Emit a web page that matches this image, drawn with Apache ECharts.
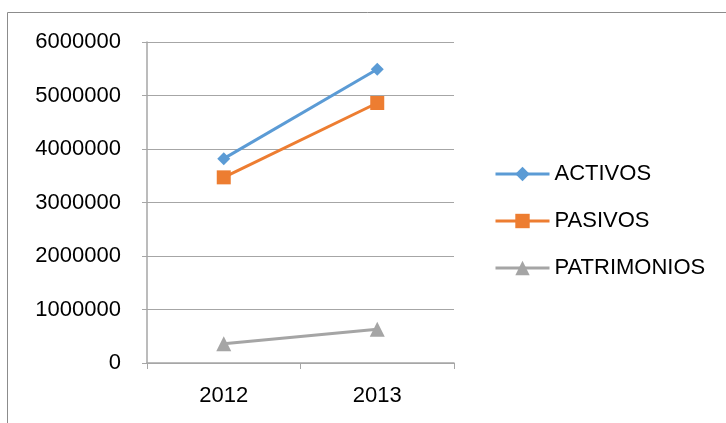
<!DOCTYPE html>
<html>
<head>
<meta charset="utf-8">
<script src="https://cdn.jsdelivr.net/npm/echarts@6/dist/echarts.min.js"></script>
<style>
  html, body { margin: 0; padding: 0; background: #fff; }
  #chart { width: 726px; height: 423px; }
</style>
</head>
<body>
<div id="chart"></div>
<script>
const years = ['2012', '2013'];
const activos = [3820000, 5490000];
const pasivos = [3470000, 4860000];
const patrimonios = [360000, 630000];

const font = 'Liberation Sans';
const chart = echarts.init(document.getElementById('chart'));

const option = {
    animation: false,
    textStyle: { fontFamily: font },
    graphic: [{
        type: 'rect',
        shape: { x: 7.5, y: 12.5, width: 900, height: 600 },
        style: { fill: 'none', stroke: '#8c8c8c', lineWidth: 1 },
        silent: true
    }],
    grid: { left: 147, right: 272, top: 42, bottom: 60 },
    legend: {
        orient: 'vertical',
        left: 494,
        top: 163,
        padding: 0,
        itemWidth: 54,
        itemHeight: 18,
        itemGap: 25,
        lineStyle: { width: 3 },
        textStyle: { fontSize: 22, color: '#000', fontFamily: font },
        data: ['ACTIVOS', 'PASIVOS', 'PATRIMONIOS']
    },
    xAxis: {
        type: 'category',
        data: years,
        boundaryGap: true,
        axisLine: { lineStyle: { color: '#a6a6a6', width: 1.5 } },
        axisTick: { show: true, length: 6, lineStyle: { color: '#a6a6a6' } },
        axisLabel: { fontSize: 22, color: '#000', margin: 22, fontFamily: font }
    },
    yAxis: {
        type: 'value',
        min: 0,
        max: 6000000,
        interval: 1000000,
        axisLine: { show: true, lineStyle: { color: '#a6a6a6', width: 1.5 } },
        axisTick: { show: true, length: 5, lineStyle: { color: '#a6a6a6' } },
        axisLabel: {
            fontSize: 22, color: '#000', margin: 26, fontFamily: font,
            formatter: v => String(v)
        },
        splitLine: { lineStyle: { color: '#a6a6a6', width: 1 } }
    },
    series: [
        {
            name: 'ACTIVOS', type: 'line', data: activos,
            color: '#5b9bd5',
            lineStyle: { width: 3 },
            symbol: 'diamond', symbolSize: 13,
            itemStyle: { color: '#5b9bd5' }
        },
        {
            name: 'PASIVOS', type: 'line', data: pasivos,
            color: '#ed7d31',
            lineStyle: { width: 3 },
            symbol: 'rect', symbolSize: 14,
            itemStyle: { color: '#ed7d31' }
        },
        {
            name: 'PATRIMONIOS', type: 'line', data: patrimonios,
            color: '#a5a5a5',
            lineStyle: { width: 3 },
            symbol: 'triangle', symbolSize: 15,
            itemStyle: { color: '#a5a5a5' }
        }
    ]
};

chart.setOption(option);
</script>
</body>
</html>
